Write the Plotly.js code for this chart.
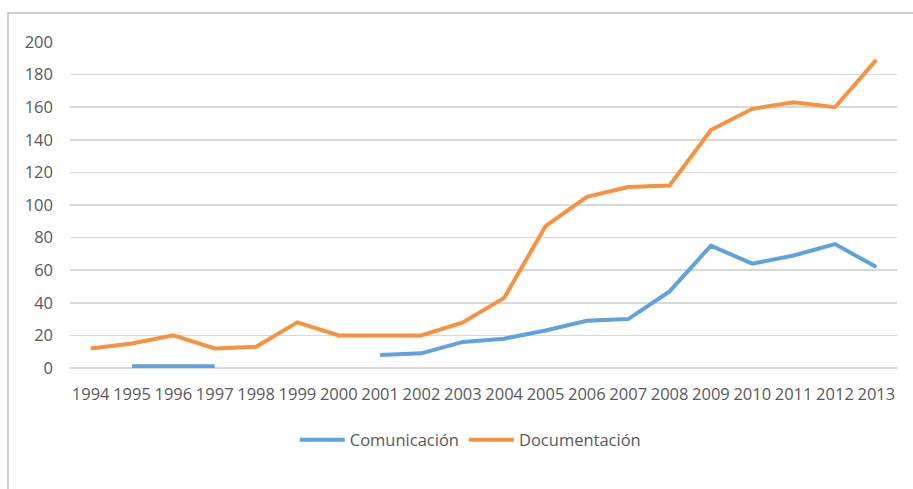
<!DOCTYPE html>
<html>
<head>
<meta charset="utf-8">
<script src="https://cdn.plot.ly/plotly-3.0.1.min.js"></script>
<style>html,body{margin:0;padding:0;background:#fff;}#chart{width:913px;height:489px;}</style>
</head>
<body>
<div id="chart"></div>
<script>
const years = ["1994","1995","1996","1997","1998","1999","2000","2001","2002","2003","2004","2005","2006","2007","2008","2009","2010","2011","2012","2013"];
const comunicacion = [null,1,1,1,null,null,null,8,9,16,18,23,29,30,47,75,64,69,76,62];
const documentacion = [12,15,20,12,13,28,20,20,20,28,43,87,105,111,112,146,159,163,160,189];
const seriesNames = ["Comunicación","Documentación"];
const yTicks = [0,20,40,60,80,100,120,140,160,180,200];

const traces = [
  {x: years, y: comunicacion, name: seriesNames[0], type: "scatter", mode: "lines",
   line: {color: "#5FA2DD", width: 4}, connectgaps: false},
  {x: years, y: documentacion, name: seriesNames[1], type: "scatter", mode: "lines",
   line: {color: "#F69240", width: 4}, connectgaps: false}
];

const font = {family: "Open Sans, sans-serif", size: 16.5, color: "#595959"};

const layout = {
  width: 913, height: 489,
  margin: {l: 70, r: 16, t: 42, b: 121},
  paper_bgcolor: "#fff", plot_bgcolor: "#fff",
  font: font,
  showlegend: true,
  legend: {orientation: "h", x: 0.484, xanchor: "center", y: -0.221, yanchor: "middle",
           font: font, itemwidth: 45, traceorder: "normal"},
  xaxis: {type: "category", range: [-0.5, 19.5], showgrid: false, zeroline: false,
          showline: false, ticks: "", tickfont: font, ticklabelstandoff: 14, fixedrange: true},
  yaxis: {range: [0, 200], tickvals: yTicks, showgrid: true, gridcolor: "#D9D9D9", gridwidth: 1.5,
          zeroline: true, zerolinecolor: "#D9D9D9", zerolinewidth: 1.5, showline: false,
          ticks: "", tickfont: font, ticklabelstandoff: 16, fixedrange: true},
  shapes: [{type: "rect", xref: "paper", yref: "paper",
            x0: -0.075, x1: 1.05, y0: -0.4, y1: 1.089,
            line: {color: "#BFBFBF", width: 1.5}, fillcolor: "rgba(0,0,0,0)", layer: "below"}]
};

Plotly.newPlot("chart", traces, layout, {displayModeBar: false, staticPlot: true});
</script>
</body>
</html>
